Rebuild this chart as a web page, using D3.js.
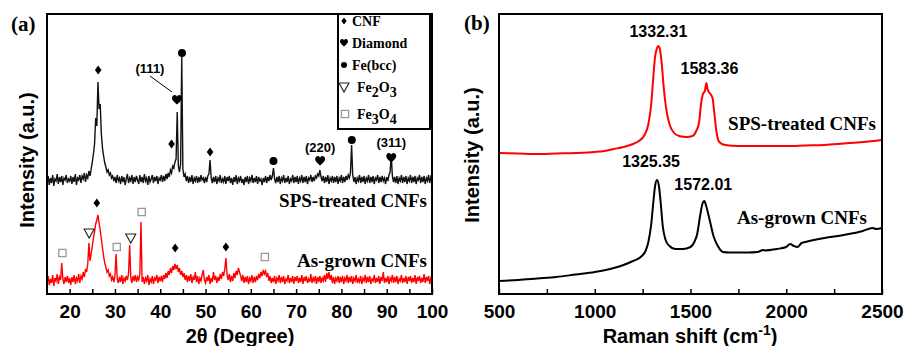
<!DOCTYPE html>
<html>
<head>
<meta charset="utf-8">
<script src="https://cdn.jsdelivr.net/npm/d3@7"></script>
<style>
  body { margin: 0; background: #fff; }
  text { font-family: "Liberation Sans", Arial, sans-serif; }
  .serif { font-family: "Liberation Serif", "Times New Roman", serif; font-weight: bold; }
</style>
</head>
<body>
<svg id="chart" width="907" height="346"></svg>
<script>
// ---- (a) XRD patterns, sampled every 0.25 deg from 15 to 100 deg ----
const xrdStart = 15;
const xrdStep = 0.25;
const xrdSps = [
  112,118,109,116,111,119,108,115,113,120,110,117,112,118,109,116,114,119,111,115,
  113,118,110,117,112,120,109,116,114,119,111,118,115,121,112,119,116,123,118,125,
  132,140,150,176,168,212,185,190,160,146,138,131,127,122,124,119,121,116,118,113,
  117,111,119,113,116,110,118,112,117,109,115,120,111,116,113,119,110,117,112,118,
  114,110,119,112,117,111,120,113,116,109,118,112,115,119,111,117,113,118,110,116,
  114,119,112,118,113,120,115,121,117,124,121,128,126,132,135,182,128,122,130,237,
  125,117,120,113,118,111,117,112,119,110,116,113,118,111,117,112,119,114,116,111,
  117,112,118,120,134,116,111,117,112,118,110,116,113,119,111,115,112,118,110,117,
  113,118,111,116,109,117,112,119,110,116,113,118,111,115,109,117,112,118,110,116,
  113,119,111,116,112,118,110,117,113,115,109,116,112,118,111,117,113,119,114,118,
  126,115,111,117,112,118,110,116,113,119,111,116,112,118,110,115,113,119,111,117,
  112,118,110,116,113,119,111,117,112,118,110,116,114,119,112,117,113,118,116,120,
  118,124,117,113,118,111,117,112,119,110,116,113,118,111,117,112,118,110,116,113,
  119,111,117,112,118,114,119,116,121,149,119,112,117,110,116,113,119,111,117,112,
  118,110,116,113,119,111,117,112,118,110,116,114,119,111,117,112,118,113,116,110,
  117,113,119,122,139,118,112,117,111,118,110,116,113,119,111,117,112,118,110,116,
  113,119,111,117,112,118,110,116,114,119,111,117,112,118,110,116,113,119,111,117,
  114
];
const xrdAsGrown = [
  12,18,9,15,11,19,8,16,13,20,10,17,14,31,15,10,17,12,18,11,
  16,9,17,12,19,10,16,13,20,11,18,15,22,17,25,22,30,51,33,40,
  48,56,62,70,74,79,71,64,55,46,38,31,27,22,24,18,20,14,17,12,
  18,40,15,11,17,12,19,10,16,13,18,14,20,49,16,11,18,13,19,12,
  17,14,20,72,12,17,10,16,13,19,9,15,12,18,10,16,14,19,11,17,
  13,18,12,19,15,21,16,23,19,26,21,28,24,30,25,29,22,26,19,23,
  17,21,14,19,12,18,13,20,11,17,14,22,12,18,10,16,13,19,24,14,
  11,17,13,19,10,16,12,22,14,18,11,17,13,20,15,22,18,25,36,19,
  14,20,12,18,13,21,16,23,19,26,22,18,13,19,11,17,12,18,10,16,
  13,19,11,17,12,18,14,20,16,22,18,24,20,23,17,21,13,18,11,16,
  12,18,10,16,13,19,11,17,12,18,10,15,13,19,11,16,12,18,10,17,
  13,18,11,16,12,19,10,17,13,18,11,15,12,20,11,16,13,18,10,17,
  12,18,11,16,13,19,12,21,15,22,14,19,11,17,10,16,13,18,11,17,
  12,18,10,16,13,19,11,17,12,18,10,16,13,19,11,15,12,18,10,16,
  13,19,11,17,12,18,10,15,13,19,11,16,12,18,10,17,13,22,11,16,
  12,18,10,16,13,19,11,17,12,18,10,15,13,19,11,16,12,18,10,17,
  13,18,11,16,12,19,10,17,13,18,11,16,12,20,11,17,13,18,10,16,
  13
];
const phases = ["CNF", "Diamond", "Fe(bcc)", "Fe2O3", "Fe3O4"];
// [phase, 2theta, marker level]
const spsMarkers = [
  ["CNF", 26.3, 224], ["Diamond", 43.7, 194], ["Fe(bcc)", 44.8, 241], ["CNF", 42.5, 150],
  ["CNF", 51.0, 142], ["Fe(bcc)", 65.0, 133], ["Diamond", 75.3, 133], ["Fe(bcc)", 82.3, 154],
  ["Diamond", 91.0, 136]
];
const asGrownMarkers = [
  ["CNF", 26.0, 91], ["Fe2O3", 24.3, 61], ["Fe3O4", 18.4, 41], ["Fe3O4", 30.4, 47],
  ["Fe2O3", 33.5, 56], ["Fe3O4", 35.9, 82], ["CNF", 43.3, 46], ["CNF", 54.5, 47],
  ["Fe3O4", 63.1, 37]
];
const diamondPlanes = ["(111)", "(220)", "(311)"];

// ---- (b) Raman spectra ----
const spsShift = [500,600,700,800,900,1000,1050,1100,1150,1200,1230,1260,1280,1295,1305,1315,1325,1332,1340,1350,1360,1375,1390,1410,1440,1480,1510,1530,1545,1555,1565,1575,1583,1590,1600,1615,1625,1635,1650,1680,1750,1850,2000,2100,2200,2300,2400,2500];
const spsRaman = [141,140.5,140,140.5,141,142,143,145,147,150,153,159,170,190,215,237,246,248,245,230,207,183,170,162,158,157,158,163,172,190,200,203,211,204,201,196,180,163,152,149,148,148,148,148.5,149,150.5,152,154];
const asShift = [500,600,700,800,900,1000,1100,1150,1200,1240,1265,1280,1295,1305,1315,1325,1335,1345,1355,1370,1390,1420,1460,1500,1520,1535,1550,1562,1572,1582,1595,1605,1620,1640,1670,1700,1800,1850,1880,1890,1950,2000,2020,2040,2060,2080,2100,2200,2300,2400,2450,2470,2500];
const asRaman = [13,14,15.5,17,19.5,22,26,29,33,37,43,52,70,90,108,114,108,90,68,54,48,45,45,47,52,60,78,90,93,88,78,70,58,49,42,41.5,41.5,42,44,43.5,45,47,50,48,47,51,52,56,59,63,66,65,66];
const ramanPeaks = [
  { series: "sps", shift: 1332.31, level: 248 },
  { series: "sps", shift: 1583.36, level: 211 },
  { series: "as", shift: 1325.35, level: 114 },
  { series: "as", shift: 1572.01, level: 93 }
];

const svg = d3.select("#chart");

function markerShape(g, kind, s) {
  if (kind === "CNF") {
    g.append("path").attr("d", `M0,${-4.5*s}L${3.3*s},0L0,${4.5*s}L${-3.3*s},0Z`).attr("fill", "#000");
  } else if (kind === "Diamond") {
    g.append("path")
      .attr("d", "M0,4.5C-1.5,3,-5,0.5,-5,-1.8C-5,-4,-3.5,-5,-2.3,-5C-1.2,-5,-0.3,-4.2,0,-3.2C0.3,-4.2,1.2,-5,2.3,-5C3.5,-5,5,-4,5,-1.8C5,0.5,1.5,3,0,4.5Z")
      .attr("transform", `scale(${s})`).attr("fill", "#000");
  } else if (kind === "Fe(bcc)") {
    g.append("circle").attr("r", 4 * s).attr("fill", "#000");
  } else if (kind === "Fe2O3") {
    g.append("path").attr("d", `M${-5*s},${-4*s}L${5*s},${-4*s}L0,${5*s}Z`)
      .attr("fill", "#fff").attr("stroke", "#222").attr("stroke-width", 1.1);
  } else {
    g.append("rect").attr("x", -3.6 * s).attr("y", -3.6 * s).attr("width", 7.2 * s).attr("height", 7.2 * s)
      .attr("fill", "#fff").attr("stroke", "#999").attr("stroke-width", 1.3);
  }
}

function bottomAxis(g, x, majors, minors, y0) {
  const style = a => {
    a.select(".domain").remove();
    a.selectAll("line").attr("stroke", "#000").attr("stroke-width", 1.5);
    a.selectAll("text").attr("font-size", 19).attr("font-weight", "bold").attr("fill", "#000")
      .attr("font-family", "'Liberation Sans', Arial, sans-serif");
  };
  g.append("g").attr("transform", `translate(0,${y0})`)
    .call(d3.axisBottom(x).tickValues(majors).tickFormat(d3.format("d")).tickSizeInner(-5).tickSizeOuter(0).tickPadding(11))
    .call(style);
  g.append("g").attr("transform", `translate(0,${y0})`)
    .call(d3.axisBottom(x).tickValues(minors).tickFormat("").tickSizeInner(-5).tickSizeOuter(0))
    .call(style);
}

// ================= panel (a) =================
const xA = d3.scaleLinear().domain([15, 100]).range([47, 432]);
const yA = d3.scaleLinear().domain([0, 280]).range([294, 14]);
const gA = svg.append("g");

const xrdLine = d3.line().x((d, i) => xA(xrdStart + i * xrdStep)).y(d => yA(d));
gA.append("path").datum(xrdSps).attr("d", xrdLine).attr("fill", "none").attr("stroke", "#111").attr("stroke-width", 1.4);
gA.append("path").datum(xrdAsGrown).attr("d", xrdLine).attr("fill", "none").attr("stroke", "#f00").attr("stroke-width", 1.4);

spsMarkers.concat(asGrownMarkers).forEach(([kind, t, lv]) => {
  const g = gA.append("g").attr("transform", `translate(${xA(t)},${yA(lv)})`);
  markerShape(g, kind, 1);
});

// diamond plane labels
const planeTheta = [43.7, 75.3, 91.0];
const planeLevel = [194, 133, 136];
gA.append("text").attr("x", xA(planeTheta[0]) - 27).attr("y", yA(planeLevel[0]) - 27)
  .attr("text-anchor", "middle").attr("font-size", 13).attr("font-weight", "bold").text(diamondPlanes[0]);
gA.append("line").attr("x1", xA(planeTheta[0]) - 27).attr("y1", yA(planeLevel[0]) - 24)
  .attr("x2", xA(planeTheta[0]) - 5).attr("y2", yA(planeLevel[0]) - 8).attr("stroke", "#000").attr("stroke-width", 1);
gA.append("text").attr("x", xA(planeTheta[1])).attr("y", yA(planeLevel[1]) - 9)
  .attr("text-anchor", "middle").attr("font-size", 13).attr("font-weight", "bold").text(diamondPlanes[1]);
gA.append("text").attr("x", xA(planeTheta[2])).attr("y", yA(planeLevel[2]) - 11)
  .attr("text-anchor", "middle").attr("font-size", 13).attr("font-weight", "bold").text(diamondPlanes[2]);

gA.append("text").attr("class", "serif").attr("x", 427).attr("y", 207).attr("text-anchor", "end")
  .attr("font-size", 19).text("SPS-treated CNFs");
gA.append("text").attr("class", "serif").attr("x", 427).attr("y", 267).attr("text-anchor", "end")
  .attr("font-size", 19).text("As-grown CNFs");

// legend
const leg = gA.append("g");
leg.append("rect").attr("x", 338).attr("y", 14).attr("width", 92).attr("height", 115)
  .attr("fill", "#fff").attr("stroke", "#000").attr("stroke-width", 2);
const legY = [21, 43, 65, 87, 114];
phases.forEach((p, i) => {
  const g = leg.append("g").attr("transform", `translate(${p === "Fe3O4" ? 345 : 344},${legY[i]})`);
  markerShape(g, p, p === "Fe(bcc)" ? 0.75 : (p === "Fe2O3" || p === "Fe3O4") ? 1 : 0.8);
  const t = leg.append("text").attr("class", "serif").attr("font-size", 14)
    .attr("x", p.startsWith("Fe") && p !== "Fe(bcc)" ? 357 : 352).attr("y", legY[i] + 5);
  if (p === "Fe2O3" || p === "Fe3O4") {
    t.append("tspan").text("Fe");
    t.append("tspan").attr("dy", 5).text(p[2]);
    t.append("tspan").attr("dy", -5).text("O");
    t.append("tspan").attr("dy", 5).text(p[4]);
  } else {
    t.text(p);
  }
});

bottomAxis(gA, xA, d3.range(20, 101, 10), d3.range(25, 100, 10), 294);
gA.append("rect").attr("x", 47).attr("y", 14).attr("width", 385).attr("height", 280)
  .attr("fill", "none").attr("stroke", "#000").attr("stroke-width", 2);

gA.append("text").attr("x", 240).attr("y", 343).attr("text-anchor", "middle")
  .attr("font-size", 20).attr("font-weight", "bold").text("2θ (Degree)");
gA.append("text").attr("transform", "translate(34,160) rotate(-90)").attr("text-anchor", "middle")
  .attr("font-size", 20).attr("font-weight", "bold").text("Intensity (a.u.)");
gA.append("text").attr("class", "serif").attr("x", 11).attr("y", 31).attr("font-size", 21).text("(a)");

// ================= panel (b) =================
const xB = d3.scaleLinear().domain([500, 2500]).range([499, 882]);
const yB = d3.scaleLinear().domain([0, 280]).range([294, 14]);
const gB = svg.append("g");

const ramanLine = (xs) => d3.line().x((d, i) => xB(xs[i])).y(d => yB(d)).curve(d3.curveMonotoneX);
gB.append("path").datum(spsRaman).attr("d", ramanLine(spsShift)).attr("fill", "none").attr("stroke", "#f00").attr("stroke-width", 2);
gB.append("path").datum(asRaman).attr("d", ramanLine(asShift)).attr("fill", "none").attr("stroke", "#000").attr("stroke-width", 2);

const peakDx = [0, 3, -6, -1];
const peakDy = [-9, -9, -13, -11];
ramanPeaks.forEach((p, i) => {
  gB.append("text").attr("x", xB(p.shift) + peakDx[i]).attr("y", yB(p.level) + peakDy[i])
    .attr("text-anchor", "middle").attr("font-size", 16).attr("font-weight", "bold").text(p.shift.toFixed(2));
});

gB.append("text").attr("class", "serif").attr("x", 876).attr("y", 130).attr("text-anchor", "end")
  .attr("font-size", 19).text("SPS-treated CNFs");
gB.append("text").attr("class", "serif").attr("x", 867).attr("y", 224).attr("text-anchor", "end")
  .attr("font-size", 19).text("As-grown CNFs");

bottomAxis(gB, xB, d3.range(500, 2501, 500), d3.range(750, 2500, 500), 294);
gB.append("rect").attr("x", 499).attr("y", 14).attr("width", 383).attr("height", 280)
  .attr("fill", "none").attr("stroke", "#000").attr("stroke-width", 2);

const tB = gB.append("text").attr("x", 690).attr("y", 343).attr("text-anchor", "middle")
  .attr("font-size", 20).attr("font-weight", "bold");
tB.append("tspan").text("Raman shift (cm");
tB.append("tspan").attr("dy", -8).attr("font-size", 14).text("-1");
tB.append("tspan").attr("dy", 8).text(")");
gB.append("text").attr("transform", "translate(479,155) rotate(-90)").attr("text-anchor", "middle")
  .attr("font-size", 20).attr("font-weight", "bold").text("Intensity (a.u.)");
gB.append("text").attr("class", "serif").attr("x", 464).attr("y", 30).attr("font-size", 21).text("(b)");
</script>
</body>
</html>
